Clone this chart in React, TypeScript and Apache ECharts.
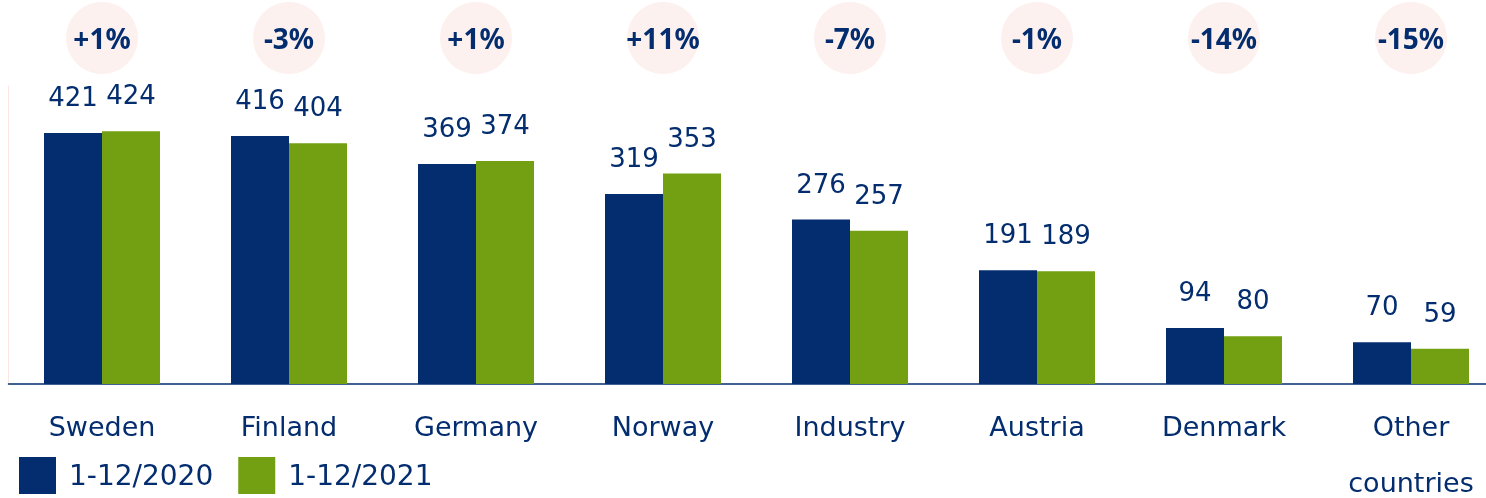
import React, { useEffect, useRef } from "react";
import * as echarts from "echarts";

const categories = ["Sweden", "Finland", "Germany", "Norway", "Industry", "Austria", "Denmark", "Other countries"];
const values2020 = [421, 416, 369, 319, 276, 191, 94, 70];
const values2021 = [424, 404, 374, 353, 257, 189, 80, 59];
const changeLabels = ["+1%", "-3%", "+1%", "+11%", "-7%", "-1%", "-14%", "-15%"];
const seriesNames = ["1-12/2020", "1-12/2021"];

const NAVY = "#032d6e";
const GREEN = "#739f13";
const PINK = "#fdf1ef";
const FONT = "'DejaVu Sans', sans-serif";
const BOLD_FONT = "'Noto Sans', sans-serif";

export default function App() {
  const ref = useRef<HTMLDivElement>(null);
  useEffect(() => {
    if (!ref.current) return;
    const chart = echarts.init(ref.current, null, { renderer: "svg" });
    const valueLabel = {
      show: true,
      position: "top",
      distance: 23,
      color: NAVY,
      fontSize: 26,
      fontFamily: FONT,
    };
    chart.setOption({
      animation: false,
      textStyle: { fontFamily: FONT },
      grid: [
        { left: 8.5, width: 1496, top: 86, bottom: 114, containLabel: false, outerBoundsMode: "none" },
        { left: 8.5, width: 1496, top: 2, height: 72, containLabel: false, outerBoundsMode: "none" },
      ],
      xAxis: [
        {
          type: "category",
          gridIndex: 0,
          data: categories,
          axisLine: { show: true, lineStyle: { color: NAVY, width: 1.5 } },
          axisTick: { show: false },
          axisLabel: {
            color: NAVY,
            fontSize: 27,
            fontFamily: FONT,
            margin: 14,
            lineHeight: 56,
            interval: 0,
            hideOverlap: false,
            formatter: (v: string) => v.split(" ").join("\n"),
          },
        },
        {
          type: "category",
          gridIndex: 1,
          data: categories,
          show: false,
        },
      ],
      yAxis: [
        {
          type: "value",
          gridIndex: 0,
          min: 0,
          max: 500,
          axisLine: { show: true, lineStyle: { color: "#fbe6e2", width: 1 } },
          axisTick: { show: false },
          axisLabel: { show: false },
          splitLine: { show: false },
        },
        { type: "value", gridIndex: 1, min: 0, max: 1, show: false },
      ],
      legend: {
        left: 19,
        top: 457,
        padding: 0,
        itemWidth: 37,
        itemHeight: 37,
        itemGap: 25,
        icon: "rect",
        data: seriesNames,
        textStyle: { color: NAVY, fontSize: 28, fontFamily: FONT, padding: [0, 0, 0, 8] },
      },
      series: [
        {
          name: seriesNames[0],
          type: "bar",
          data: values2020,
          barWidth: 58,
          barGap: "0%",
          itemStyle: { color: NAVY },
          label: valueLabel,
        },
        {
          name: seriesNames[1],
          type: "bar",
          data: values2021,
          barWidth: 58,
          barGap: "0%",
          itemStyle: { color: GREEN },
          label: valueLabel,
        },
        {
          type: "scatter",
          xAxisIndex: 1,
          yAxisIndex: 1,
          symbol: "circle",
          symbolSize: 72,
          itemStyle: { color: PINK, opacity: 1 },
          data: changeLabels.map((_, i) => [categories[i], 0.5]),
          label: {
            show: true,
            position: "inside",
            color: NAVY,
            fontSize: 28,
            fontWeight: "bold",
            fontFamily: BOLD_FONT,
            formatter: (p: any) => changeLabels[p.dataIndex],
          },
          silent: true,
        },
      ],
    });
    return () => chart.dispose();
  }, []);
  return (
    <div
      ref={ref}
      style={{ position: "fixed", left: 0, top: 0, width: 1486, height: 498 }}
    />
  );
}
